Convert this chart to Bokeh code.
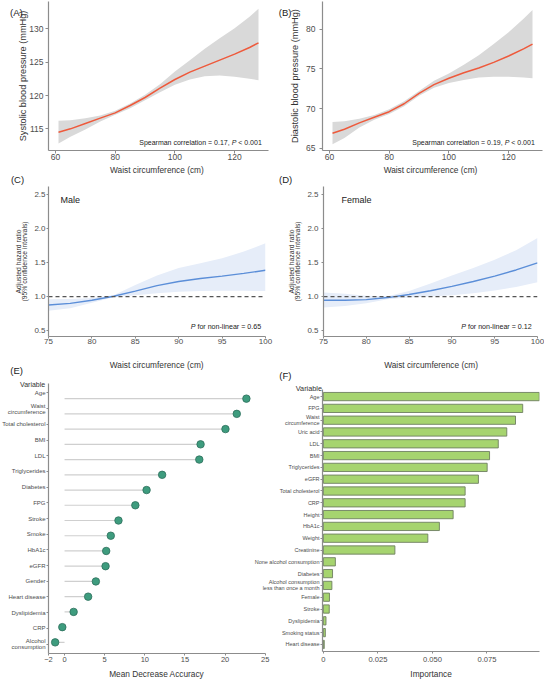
from bokeh.plotting import figure
from bokeh.models import Range1d, Label, Span, FixedTicker, LinearAxis
from bokeh.layouts import column, row
from bokeh.embed import file_html
from bokeh.resources import INLINE

FONT = "Liberation Sans"
AXIS_COL = "#8c8c8c"
TICK_TXT = "#4d4d4d"
TITLE_TXT = "#333333"

# ---------------- data ----------------
wc_ab = [61, 65, 70, 75, 80, 85, 90, 95, 100, 105, 110, 115, 120, 125, 128]
sbp_fit = [114.5, 115.0, 115.8, 116.6, 117.4, 118.5, 119.7, 121.1, 122.4, 123.5, 124.4, 125.3, 126.2, 127.2, 127.9]
sbp_hi = [116.2, 116.3, 116.6, 117.0, 117.7, 118.8, 120.1, 121.7, 123.6, 125.3, 127.0, 128.6, 130.1, 131.8, 133.0]
sbp_lo = [112.8, 113.8, 114.9, 116.1, 117.1, 118.1, 119.3, 120.5, 121.6, 122.4, 122.9, 123.0, 122.8, 122.5, 122.3]
dbp_fit = [66.9, 67.4, 68.2, 68.9, 69.6, 70.6, 71.9, 73.0, 73.8, 74.5, 75.1, 75.8, 76.6, 77.5, 78.1]
dbp_hi = [68.3, 68.4, 68.7, 69.2, 69.9, 70.9, 72.2, 73.5, 74.4, 75.5, 76.7, 78.1, 79.6, 81.3, 82.4]
dbp_lo = [65.5, 66.3, 67.6, 68.6, 69.3, 70.3, 71.6, 72.6, 73.2, 73.6, 73.9, 74.0, 74.0, 73.9, 73.8]
ab_xticks = [60, 80, 100, 120]
sbp_yticks = [115, 120, 125, 130]
dbp_yticks = [65, 70, 75, 80]

wc_cd = [75, 77.5, 80, 82.5, 85, 87.5, 90, 92.5, 95, 97.5, 100]
male_fit = [0.875, 0.90, 0.945, 1.005, 1.08, 1.16, 1.22, 1.265, 1.30, 1.34, 1.385]
male_hi = [0.96, 0.965, 0.98, 1.02, 1.17, 1.31, 1.42, 1.49, 1.56, 1.66, 1.78]
male_lo = [0.79, 0.83, 0.91, 0.99, 1.02, 1.05, 1.07, 1.08, 1.085, 1.085, 1.08]
female_fit = [0.945, 0.945, 0.955, 0.985, 1.03, 1.085, 1.15, 1.22, 1.30, 1.39, 1.495]
female_hi = [1.06, 1.04, 1.01, 1.005, 1.08, 1.19, 1.31, 1.42, 1.54, 1.68, 1.86]
female_lo = [0.84, 0.86, 0.90, 0.96, 0.985, 1.0, 1.02, 1.05, 1.09, 1.14, 1.21]
cd_xticks = [75, 80, 85, 90, 95, 100]
hr_ticks = [0.5, 1.0, 1.5, 2.0, 2.5]
hr_tick_labels = ["0.5", "1.0", "1.5", "2.0", "2.5"]

e_vars = ["Age", "Waist\ncircumference", "Total cholesterol", "BMI", "LDL", "Triglycerides",
          "Diabetes", "FPG", "Stroke", "Smoke", "HbA1c", "eGFR", "Gender", "Heart disease",
          "Dyslipidemia", "CRP", "Alcohol\nconsumption"]
e_mda = [22.66, 21.46, 20.05, 16.95, 16.79, 12.16, 10.22, 8.82, 6.72, 5.76, 5.19, 5.11,
         3.9, 2.94, 1.13, -0.28, -1.17]
e_ticks = [-2, 0, 5, 10, 15, 20, 25]

f_vars = ["Age", "FPG", "Waist\ncircumference", "Uric acid", "LDL", "BMI", "Triglycerides",
          "eGFR", "Total cholesterol", "CRP", "Height", "HbA1c", "Weight", "Creatinine",
          "None alcohol consumption", "Diabetes", "Alcohol consumption\nless than once a month",
          "Female", "Stroke", "Dyslipidemia", "Smoking status", "Heart disease"]
f_imp = [0.0990, 0.0914, 0.0881, 0.0841, 0.0802, 0.0762, 0.0751, 0.0711, 0.0650, 0.0650,
         0.0595, 0.0532, 0.0479, 0.0328, 0.0055, 0.0042, 0.0039, 0.0028, 0.0027, 0.0012,
         0.0009, 0.0004]
f_ticks = [0, 0.025, 0.05, 0.075]
f_tick_labels = ["0", "0.025", "0.050", "0.075"]

# ---------------- helpers ----------------
AW = {' ': 278, ',': 278, '.': 278, '=': 584, '<': 584, '-': 333, 'P': 667, 'S': 667,
      'a': 556, 'c': 500, 'e': 556, 'f': 278, 'i': 222, 'l': 222, 'm': 833, 'n': 556,
      'o': 556, 'p': 556, 'r': 333, 't': 278}
for d in "0123456789":
    AW[d] = 556


def tw(s, size):
    return sum(AW.get(c, 556) for c in s) / 1000.0 * size


def make_fig(w, h, l, r, t, b, xr, yr, ytitle=None, ytitle_size=9, ytitle_standoff=20, ytitle_lh=None):
    p = figure(width=w, height=h, x_range=Range1d(*xr), y_range=Range1d(*yr),
               x_axis_type=None, y_axis_type=("linear" if ytitle else None),
               output_backend="svg", toolbar_location=None,
               min_border_left=l, min_border_right=r, min_border_top=t, min_border_bottom=b)
    p.xgrid.visible = False
    p.ygrid.visible = False
    p.outline_line_color = None
    if ytitle:
        ax = p.yaxis[0]
        ax.ticker = FixedTicker(ticks=[])
        ax.axis_line_color = None
        ax.major_tick_line_color = None
        ax.minor_tick_line_color = None
        ax.major_tick_out = 0
        ax.minor_tick_out = 0
        ax.major_label_standoff = 0
        ax.axis_label = ytitle
        ax.axis_label_text_font = FONT
        ax.axis_label_text_font_style = "normal"
        ax.axis_label_text_color = TITLE_TXT
        ax.axis_label_text_font_size = f"{ytitle_size}px"
        ax.axis_label_standoff = ytitle_standoff
        if ytitle_lh is not None:
            ax.axis_label_text_line_height = ytitle_lh
    geom = (l, t, w - l - r, h - t - b, xr, yr)
    return p, geom


def add_label(p, g, px, py, text, size, align="left", style="normal", color="#222222"):
    l, t, fw, fh, xr, yr = g
    x = xr[0] + (px - l) / fw * (xr[1] - xr[0])
    y = yr[1] + (py - t) / fh * (yr[0] - yr[1])
    p.add_layout(Label(x=x, y=y, text=text, text_align=align, text_baseline="middle",
                       text_font=FONT, text_font_size=f"{size}px", text_font_style=style,
                       text_color=color))


def spearman(p, g, xr_px, py, rho, size):
    tail = "< 0.001"
    add_label(p, g, xr_px, py, tail, size, align="right")
    x2 = xr_px - tw(tail, size) - tw(" ", size)
    add_label(p, g, x2, py, "P", size, align="right", style="italic")
    x3 = x2 - tw("P", size) - tw(" ", size)
    add_label(p, g, x3, py, f"Spearman correlation = {rho},", size, align="right")


def pnonlin(p, g, xr_px, py, val, size):
    tail = f"for non-linear = {val}"
    add_label(p, g, xr_px, py, tail, size, align="right")
    x2 = xr_px - tw(tail, size) - tw(" ", size)
    add_label(p, g, x2, py, "P", size, align="right", style="italic")


# ---------------- overlay holding axes and outside texts ----------------
# x = page x ; y = -(page y)
PX0, PX1, PY0, PY1 = 8, 552, 8, 687
ov = figure(width=544, height=679, x_range=Range1d(PX0, PX1), y_range=Range1d(-PY1, -PY0),
            x_axis_type=None, y_axis_type=None, min_border=0,
            output_backend="svg", toolbar_location=None)
ov.outline_line_color = None
ov.background_fill_alpha = 0
ov.border_fill_alpha = 0
ov.xgrid.visible = False
ov.ygrid.visible = False
ov.margin = (-679, 0, 0, 0)


def ov_axis(name, dim, drange, prange, loc, ticks, labels, tick_size, tick_out, ls1, label_lh=None):
    d0, d1 = drange
    p0, p1 = prange

    def dat(px):
        return d0 + (px - p0) / (p1 - p0) * (d1 - d0)

    if dim == "x":
        ov.extra_x_ranges[name] = Range1d(dat(PX0), dat(PX1))
        ax = LinearAxis(x_range_name=name)
        ax.fixed_location = -loc
    else:
        ov.extra_y_ranges[name] = Range1d(dat(PY1), dat(PY0))
        ax = LinearAxis(y_range_name=name)
        ax.fixed_location = loc
    ax.bounds = (min(d0, d1), max(d0, d1))
    ax.ticker = FixedTicker(ticks=ticks)
    if labels is not None:
        ax.major_label_overrides = {t: s for t, s in zip(ticks, labels)}
    ax.axis_line_color = AXIS_COL
    ax.axis_line_width = 1.2
    ax.major_tick_line_color = AXIS_COL
    ax.major_tick_in = 0
    ax.major_tick_out = tick_out
    ax.minor_tick_line_color = None
    ax.major_label_text_font = FONT
    ax.major_label_text_color = TICK_TXT
    ax.major_label_text_font_size = f"{tick_size}px"
    ax.major_label_standoff = ls1
    if label_lh is not None:
        ax.major_label_text_line_height = label_lh
    ov.add_layout(ax, "below" if dim == "x" else "left")


def ov_text(x, y, text, size, align="center", color=TITLE_TXT):
    ov.add_layout(Label(x=x, y=-y, text=text, text_align=align, text_baseline="middle",
                        text_font=FONT, text_font_size=f"{size}px", text_color=color))


# ---------------- Row 1: A, B ----------------
XR_AB = (57.65, 131.35)
YR_A = (111.75, 134.1)
YR_B = (64.72, 83.46)

pA, gA = make_fig(272, 174, 48, 4, 1, 24, XR_AB, YR_A,
                  "Systolic blood pressure (mmHg)", 9.2, 21)
pA.varea(x=wc_ab, y1=sbp_lo, y2=sbp_hi, fill_color="#d9d9d9", fill_alpha=1)
pA.line(wc_ab, sbp_fit, line_color="#ee5a3c", line_width=1.5)
spearman(pA, gA, 261.3, 142.3, "0.17", 7.0)

pB, gB = make_fig(272, 174, 50, 2, 1, 24, XR_AB, YR_B,
                  "Diastolic blood pressure (mmHg)", 9.2, 23)
pB.varea(x=wc_ab, y1=dbp_lo, y2=dbp_hi, fill_color="#d9d9d9", fill_alpha=1)
pB.line(wc_ab, dbp_fit, line_color="#ee5a3c", line_width=1.5)
spearman(pB, gB, 262.3, 142.3, "0.19", 7.0)

ov_axis("ax", "x", XR_AB, (56, 276), 158, ab_xticks, None, 8.5, 3, 0)
ov_axis("ay", "y", YR_A, (158, 9), 56, sbp_yticks, None, 8.5, 3, 2)
ov_axis("bx", "x", XR_AB, (330, 550), 158, ab_xticks, None, 8.5, 3, 0)
ov_axis("by", "y", YR_B, (158, 9), 330, dbp_yticks, None, 8.5, 3, 4)
ov_text(164.4, 177, "Waist circumference (cm)", 8.3)
ov_text(438.0, 177, "Waist circumference (cm)", 8.3)

# ---------------- Row 2: C, D ----------------
XR_CD = (75, 100)
YR_CD = (0.414, 2.614)
HR_TITLE = "Adjusted hazard ratio\n(95% confidence intervals)"


def hr_panel(l, r, fit, lo, hi, sex, sex_x, p_val, p_x, so):
    p, g = make_fig(272, 195, l, r, 12, 33, XR_CD, YR_CD, HR_TITLE, 6.8, so, 0.85)
    p.varea(x=wc_cd, y1=lo, y2=hi, fill_color="#e6edf9", fill_alpha=1)
    p.line(wc_cd, fit, line_color="#5b8ed8", line_width=1.4)
    p.add_layout(Span(location=1.0, dimension="width", line_color="#555555",
                      line_width=1.3, line_dash="4 3"))
    add_label(p, g, sex_x, 25.3, sex, 9.0, align="left")
    pnonlin(p, g, p_x, 152.6, p_val, 7.1)
    return p


pC = hr_panel(48, 7, male_fit, male_lo, male_hi, "Male", 59.9, "0.65", 260.6, 21)
pD = hr_panel(51, 7, female_fit, female_lo, female_hi, "Female", 69, "0.12", 259.1, 23)
ov_axis("cx", "x", XR_CD, (56, 273), 344, cd_xticks, None, 8, 2, 0)
ov_axis("cy", "y", YR_CD, (344, 194), 56, hr_ticks, hr_tick_labels, 8, 2, 1)
ov_axis("dx", "x", XR_CD, (331, 545), 344, cd_xticks, None, 8, 2, 0)
ov_axis("dy", "y", YR_CD, (344, 194), 331, hr_ticks, hr_tick_labels, 8, 2, 3)
ov_text(164.2, 372.4, "Waist circumference (cm)", 8.3)
ov_text(438.6, 372.4, "Waist circumference (cm)", 8.3)

# ---------------- Row 3: E, F ----------------
nE = len(e_vars)
XR_E = (-2, 25.04)
YR_E = (nE - 1 + 0.6, -0.6)
pE, gE = make_fig(272, 310, 48, 7, 14, 26, XR_E, YR_E)
yE = list(range(nE))
pE.segment(x0=[0] * nE, y0=yE, x1=e_mda, y1=yE, line_color="#cfcfcf", line_width=1.2)
pE.scatter(e_mda, yE, size=7.5, fill_color="#3e9c7e", line_color="#2d6f5c", line_width=0.8)
ov_axis("ex", "x", XR_E, (56, 273), 661, e_ticks, None, 7.5, 2, 1)
ov_axis("ey", "y", YR_E, (661, 391), 56, yE, e_vars, 6, 2, 1, 1.0)
ov_text(164.2, 681.0, "Mean Decrease Accuracy", 8.3)

nF = len(f_vars)
XR_F = (-0.0004, 0.0991)
YR_F = (nF - 1 + 0.6, -0.6)
pF, gF = make_fig(272, 310, 50, 5, 20, 28, XR_F, YR_F)
yF = list(range(nF))
pF.hbar(y=yF, left=0, right=f_imp, height=0.7, fill_color="#a6d46f",
        line_color="#6e7f60", line_width=0.9)
ov_axis("fx", "x", XR_F, (330, 547), 659, f_ticks, f_tick_labels, 7.6, 2, 3)
ov_axis("fy", "y", YR_F, (659, 397), 330, yF, f_vars, 5.5, 2, 1, 1.0)
ov_text(438.6, 681.0, "Importance", 8.3)

# ---------------- panel letters and other outside texts ----------------
panel_letters = ["(A)", "(B)", "(C)", "(D)", "(E)", "(F)"]
letter_pos = [(23.8, 19.7), (292.6, 19.7), (25.0, 187.1), (293.1, 186.8), (24.2, 378.0), (292.9, 382.5)]
for txt, (x, y) in zip(panel_letters, letter_pos):
    ov_text(x, y, txt, 9.5, color="#222222")
ov_text(52.7, 392.3, "Variable", 7.0, align="right")
ov_text(329.5, 395.6, "Variable", 7.3, align="right")

layout = column(row(pA, pB), row(pC, pD), row(pE, pF), ov)
open("out.html", "w").write(file_html(layout, INLINE))
